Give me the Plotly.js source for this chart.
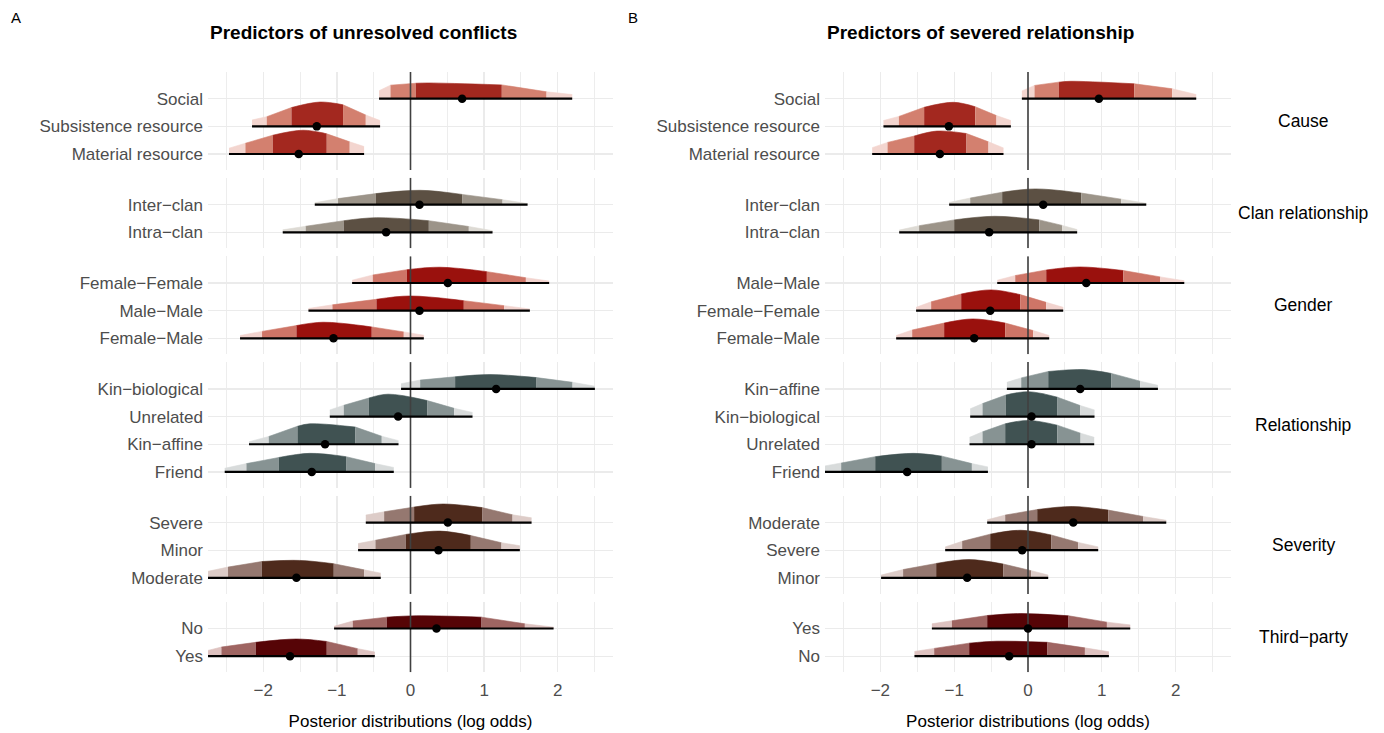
<!DOCTYPE html>
<html><head><meta charset="utf-8">
<script src="https://cdn.plot.ly/plotly-3.0.1.min.js"></script>
<style>html,body{margin:0;padding:0;background:#fff}#chart{width:1384px;height:733px}</style>
</head><body><div id="chart"></div>
<script>
// ---------------- DATA ----------------
const panelTitles = ["Predictors of unresolved conflicts", "Predictors of severed relationship"];
const panelTags = ["A", "B"];
const facetNames = ["Cause", "Clan relationship", "Gender", "Relationship", "Severity", "Third\u2212party"];
const facetSizes = [3, 2, 3, 4, 3, 2];
const darkCols  = ["#A3281F", "#5C5043", "#9A110D", "#405252", "#4E2A1C", "#560406"];
const midCols   = ["#D3806F", "#9C9489", "#CE7567", "#879393", "#957870", "#9F6562"];
const lightCols = ["#F3D5CF", "#DDDAD4", "#F2D3CE", "#D8DBDB", "#DDCCC8", "#DEC2C0"];
const xTickVals = [-2, -1, 0, 1, 2];
const xTickText = ["\u22122", "\u22121", "0", "1", "2"];
const xTitle = "Posterior distributions (log odds)";

// Panel A (top to bottom within facets)
const labelsA = ["Social", "Subsistence resource", "Material resource",
  "Inter\u2212clan", "Intra\u2212clan",
  "Female\u2212Female", "Male\u2212Male", "Female\u2212Male",
  "Kin\u2212biological", "Unrelated", "Kin\u2212affine", "Friend",
  "Severe", "Minor", "Moderate",
  "No", "Yes"];
const medA   = [0.701, -1.273, -1.518, 0.122, -0.331, 0.507, 0.122, -1.046, 1.163, -0.168, -1.160, -1.341, 0.507, 0.380, -1.549, 0.353, -1.636];
const lo95A  = [-0.427, -2.152, -2.465, -1.300, -1.735, -0.793, -1.386, -2.315, -0.128, -1.096, -2.193, -2.523, -0.607, -0.712, -2.85, -1.038, -2.85];
const lo80A  = [-0.272, -1.952, -2.242, -0.984, -1.423, -0.512, -1.060, -2.016, 0.131, -0.906, -1.925, -2.228, -0.358, -0.476, -2.478, -0.784, -2.568];
const lo50A  = [0.072, -1.617, -1.871, -0.471, -0.906, -0.050, -0.462, -1.549, 0.606, -0.566, -1.535, -1.789, 0.049, -0.064, -2.020, -0.322, -2.102];
const hi50A  = [1.240, -0.916, -1.137, 0.701, 0.249, 1.037, 0.724, -0.526, 1.712, 0.226, -0.747, -0.875, 0.973, 0.819, -1.042, 0.965, -1.137];
const hi80A  = [1.848, -0.607, -0.825, 1.250, 0.792, 1.567, 1.272, -0.091, 2.201, 0.593, -0.390, -0.481, 1.386, 1.236, -0.630, 1.553, -0.716];
const hi95A  = [2.196, -0.413, -0.630, 1.590, 1.114, 1.883, 1.621, 0.181, 2.504, 0.842, -0.163, -0.227, 1.644, 1.485, -0.404, 1.943, -0.485];
const modeA  = [0.25, -1.23, -1.459, 0.13, -0.462, 0.398, -0.01, -1.187, 1.078, -0.304, -1.368, -1.368, 0.443, 0.398, -1.504, 0.08, -1.549];
const hLo95A = [0.29, 0.23, 0.21, 0.07, 0.09, 0.10, 0.08, 0.10, 0.19, 0.24, 0.09, 0.13, 0.27, 0.24, 0.18, 0.08, 0.14];
const hLo80A = [0.49, 0.35, 0.39, 0.22, 0.22, 0.29, 0.21, 0.25, 0.32, 0.41, 0.28, 0.30, 0.39, 0.36, 0.39, 0.27, 0.33];
const hLo50A = [0.56, 0.68, 0.68, 0.40, 0.42, 0.48, 0.41, 0.46, 0.44, 0.67, 0.65, 0.52, 0.56, 0.57, 0.59, 0.41, 0.50];
const hModeA = [0.57, 0.88, 0.86, 0.52, 0.53, 0.57, 0.53, 0.58, 0.52, 0.81, 0.74, 0.67, 0.67, 0.69, 0.63, 0.46, 0.62];
const hHi50A = [0.50, 0.78, 0.73, 0.37, 0.42, 0.41, 0.36, 0.41, 0.41, 0.58, 0.62, 0.55, 0.54, 0.53, 0.51, 0.41, 0.53];
const hHi80A = [0.25, 0.41, 0.44, 0.18, 0.21, 0.19, 0.18, 0.23, 0.24, 0.30, 0.29, 0.30, 0.28, 0.27, 0.29, 0.17, 0.27];
const hHi95A = [0.15, 0.21, 0.27, 0.04, 0.06, 0.07, 0.06, 0.11, 0.10, 0.15, 0.13, 0.16, 0.17, 0.16, 0.17, 0.05, 0.15];

// Panel B
const labelsB = ["Social", "Subsistence resource", "Material resource",
  "Inter\u2212clan", "Intra\u2212clan",
  "Male\u2212Male", "Female\u2212Female", "Female\u2212Male",
  "Kin\u2212affine", "Kin\u2212biological", "Unrelated", "Friend",
  "Moderate", "Severe", "Minor",
  "Yes", "No"];
const medB   = [0.960, -1.072, -1.194, 0.206, -0.526, 0.789, -0.512, -0.729, 0.707, 0.048, 0.048, -1.637, 0.613, -0.079, -0.824, 0.0, -0.255];
const lo95B  = [-0.083, -1.958, -2.111, -1.068, -1.745, -0.417, -1.516, -1.786, -0.286, -0.783, -0.792, -2.85, -0.553, -1.122, -1.990, -1.302, -1.538];
const lo80B  = [0.088, -1.749, -1.903, -0.783, -1.475, -0.173, -1.312, -1.569, -0.092, -0.616, -0.616, -2.531, -0.309, -0.892, -1.692, -1.031, -1.271];
const lo50B  = [0.418, -1.407, -1.542, -0.350, -1.000, 0.247, -0.905, -1.136, 0.274, -0.300, -0.309, -2.070, 0.125, -0.512, -1.244, -0.553, -0.797];
const hi50B  = [1.439, -0.715, -0.833, 0.721, 0.152, 1.291, -0.106, -0.309, 1.131, 0.400, 0.396, -1.167, 1.087, 0.314, -0.336, 0.549, 0.264];
const hi80B  = [1.954, -0.427, -0.535, 1.263, 0.463, 1.792, 0.246, 0.070, 1.520, 0.707, 0.712, -0.760, 1.561, 0.680, 0.043, 1.069, 0.771];
const hi95B  = [2.279, -0.232, -0.332, 1.602, 0.666, 2.117, 0.477, 0.287, 1.760, 0.901, 0.897, -0.543, 1.873, 0.951, 0.274, 1.385, 1.096];
const modeB  = [0.572, -1.009, -1.234, 0.10, -0.45, 0.70, -0.50, -0.75, 0.752, 0.007, 0.007, -1.551, 0.60, -0.10, -0.80, -0.106, -0.422];
const hLo95B = [0.28, 0.21, 0.23, 0.08, 0.08, 0.10, 0.12, 0.10, 0.24, 0.28, 0.25, 0.17, 0.10, 0.12, 0.10, 0.17, 0.17];
const hLo80B = [0.48, 0.36, 0.42, 0.24, 0.24, 0.27, 0.32, 0.30, 0.40, 0.47, 0.45, 0.32, 0.27, 0.32, 0.30, 0.28, 0.28];
const hLo50B = [0.60, 0.69, 0.65, 0.45, 0.45, 0.47, 0.60, 0.55, 0.63, 0.78, 0.74, 0.55, 0.47, 0.58, 0.52, 0.47, 0.47];
const hModeB = [0.63, 0.87, 0.83, 0.57, 0.58, 0.58, 0.75, 0.70, 0.70, 0.90, 0.86, 0.67, 0.58, 0.72, 0.66, 0.54, 0.54];
const hHi50B = [0.54, 0.71, 0.74, 0.42, 0.45, 0.45, 0.58, 0.55, 0.56, 0.70, 0.69, 0.57, 0.45, 0.55, 0.50, 0.46, 0.50];
const hHi80B = [0.36, 0.39, 0.44, 0.20, 0.25, 0.22, 0.30, 0.28, 0.28, 0.40, 0.40, 0.30, 0.22, 0.28, 0.26, 0.23, 0.30];
const hHi95B = [0.15, 0.21, 0.22, 0.05, 0.10, 0.08, 0.12, 0.10, 0.13, 0.24, 0.25, 0.18, 0.08, 0.12, 0.10, 0.13, 0.16];

// ---------------- LAYOUT GEOMETRY (pixels) ----------------
const W = 1384, H = 733;
const panelPx = [[208, 613], [825, 1231]];
const unitPx = 27.65, firstTop = 71.9, gapPx = 7.8, padBottom = 0.58, padTop = 0.97;
const xRange = [-2.75, 2.75];
const FONT = "Liberation Sans, Arial, Helvetica, sans-serif";
const gridCol = "#EBEBEB";

const panels = [
  {labels: labelsA, med: medA, lo95: lo95A, lo80: lo80A, lo50: lo50A, hi50: hi50A, hi80: hi80A, hi95: hi95A,
   mode: modeA, hLo95: hLo95A, hLo80: hLo80A, hLo50: hLo50A, hMode: hModeA, hHi50: hHi50A, hHi80: hHi80A, hHi95: hHi95A},
  {labels: labelsB, med: medB, lo95: lo95B, lo80: lo80B, lo50: lo50B, hi50: hi50B, hi80: hi80B, hi95: hi95B,
   mode: modeB, hLo95: hLo95B, hLo80: hLo80B, hLo50: hLo50B, hMode: hModeB, hHi50: hHi50B, hHi80: hHi80B, hHi95: hHi95B}
];

const traces = [];
const layout = {
  width: W, height: H, margin: {l: 0, r: 0, t: 0, b: 0},
  paper_bgcolor: "#fff", plot_bgcolor: "#fff", showlegend: false,
  font: {family: FONT, color: "#000"},
  annotations: [], hovermode: false
};

// facet vertical positions
const facetTop = [], facetBot = [];
{
  let t = firstTop;
  for (let f = 0; f < facetSizes.length; f++) {
    const h = (facetSizes[f] - 1 + padBottom + padTop) * unitPx;
    facetTop.push(t); facetBot.push(t + h);
    t += h + gapPx;
  }
}

panels.forEach((P, p) => {
  let rowIdx = 0;
  facetSizes.forEach((n, f) => {
    const k = p * facetSizes.length + f + 1;
    const xa = "x" + k, ya = "y" + k;
    const xKey = k === 1 ? "xaxis" : "xaxis" + k;
    const yKey = k === 1 ? "yaxis" : "yaxis" + k;
    const yr = [-padBottom, n - 1 + padTop];
    const isBottom = f === facetSizes.length - 1;
    layout[xKey] = {
      domain: [panelPx[p][0] / W, panelPx[p][1] / W], anchor: ya, range: xRange,
      tickmode: "array", tickvals: xTickVals, ticktext: xTickText,
      showticklabels: isBottom, ticks: "", showline: false, zeroline: false,
      showgrid: true, gridcolor: gridCol, gridwidth: 1.3,
      minor: {tickmode: "array", tickvals: [-2.5, -1.5, -0.5, 0.5, 1.5, 2.5], showgrid: true, gridcolor: gridCol, gridwidth: 0.9, ticks: ""},
      tickfont: {size: 17, color: "#4D4D4D", family: FONT},
      ticklabelstandoff: 6,
      fixedrange: true
    };
    if (isBottom) layout[xKey].title = {text: xTitle, font: {size: 17, color: "#000", family: FONT}, standoff: 15};
    const labs = P.labels.slice(rowIdx, rowIdx + n);
    layout[yKey] = {
      domain: [1 - facetBot[f] / H, 1 - facetTop[f] / H], anchor: xa, range: yr,
      tickmode: "array", tickvals: labs.map((_, j) => j), ticktext: labs.map((_, j) => labs[n - 1 - j]),
      ticks: "", showline: false, zeroline: false,
      showgrid: true, gridcolor: gridCol, gridwidth: 1.3,
      tickfont: {size: 17, color: "#4D4D4D", family: FONT},
      ticklabelstandoff: 4,
      fixedrange: true
    };
    // densities
    for (let j = 0; j < n; j++) {
      const i = rowIdx + j;
      const yb = n - 1 - j;
      const pk = Math.min(Math.max(P.mode[i], P.lo50[i] + 0.01), P.hi50[i] - 0.01);
      const bands = [
        {xs: [P.lo95[i], P.lo80[i]], hs: [P.hLo95[i], P.hLo80[i]], c: lightCols[f]},
        {xs: [P.lo80[i], P.lo50[i]], hs: [P.hLo80[i], P.hLo50[i]], c: midCols[f]},
        {xs: [P.lo50[i], pk, P.hi50[i]], hs: [P.hLo50[i], P.hMode[i], P.hHi50[i]], c: darkCols[f]},
        {xs: [P.hi50[i], P.hi80[i]], hs: [P.hHi50[i], P.hHi80[i]], c: midCols[f]},
        {xs: [P.hi80[i], P.hi95[i]], hs: [P.hHi80[i], P.hHi95[i]], c: lightCols[f]}
      ];
      bands.forEach(b => {
        traces.push({type: "scatter", mode: "lines", x: [b.xs[0], b.xs[b.xs.length - 1]], y: [yb, yb],
          line: {width: 0, color: "rgba(0,0,0,0)"}, xaxis: xa, yaxis: ya, hoverinfo: "skip"});
        traces.push({type: "scatter", mode: "lines", x: b.xs, y: b.hs.map(h => yb + h),
          line: {width: 0.6, color: b.c, shape: "spline", smoothing: 1}, fill: "tonexty", fillcolor: b.c,
          xaxis: xa, yaxis: ya, hoverinfo: "skip"});
      });
    }
    // zero reference line
    traces.push({type: "scatter", mode: "lines", x: [0, 0], y: yr, line: {width: 1.6, color: "#404040"},
      xaxis: xa, yaxis: ya, hoverinfo: "skip"});
    // intervals and medians
    for (let j = 0; j < n; j++) {
      const i = rowIdx + j;
      const yb = n - 1 - j;
      traces.push({type: "scatter", mode: "lines", x: [P.lo95[i], P.hi95[i]], y: [yb, yb],
        line: {width: 2.2, color: "#000"}, xaxis: xa, yaxis: ya, hoverinfo: "skip"});
      traces.push({type: "scatter", mode: "markers", x: [P.med[i]], y: [yb],
        marker: {size: 8.5, color: "#000"}, xaxis: xa, yaxis: ya, hoverinfo: "skip", cliponaxis: true});
    }
    if (p === 1) {
      layout.annotations.push({text: facetNames[f], xref: "paper", yref: ya + " domain", x: 1303 / W, y: 0.5,
        xanchor: "center", yanchor: "middle", showarrow: false, font: {size: 17.5, color: "#000", family: FONT}});
    }
    rowIdx += n;
  });
  layout.annotations.push({text: "<b>" + panelTitles[p] + "</b>", xref: "paper", yref: "paper",
    x: panelPx[p][0] / W, y: 1 - 33 / H, xanchor: "left", yanchor: "middle", showarrow: false,
    font: {size: 19, color: "#000", family: FONT}});
  layout.annotations.push({text: panelTags[p], xref: "paper", yref: "paper",
    x: (p === 0 ? 9 : 626) / W, y: 1 - 18 / H, xanchor: "left", yanchor: "middle", showarrow: false,
    font: {size: 15, color: "#000", family: FONT}});
});

Plotly.newPlot("chart", traces, layout, {displayModeBar: false, staticPlot: true});
</script>
</body></html>
